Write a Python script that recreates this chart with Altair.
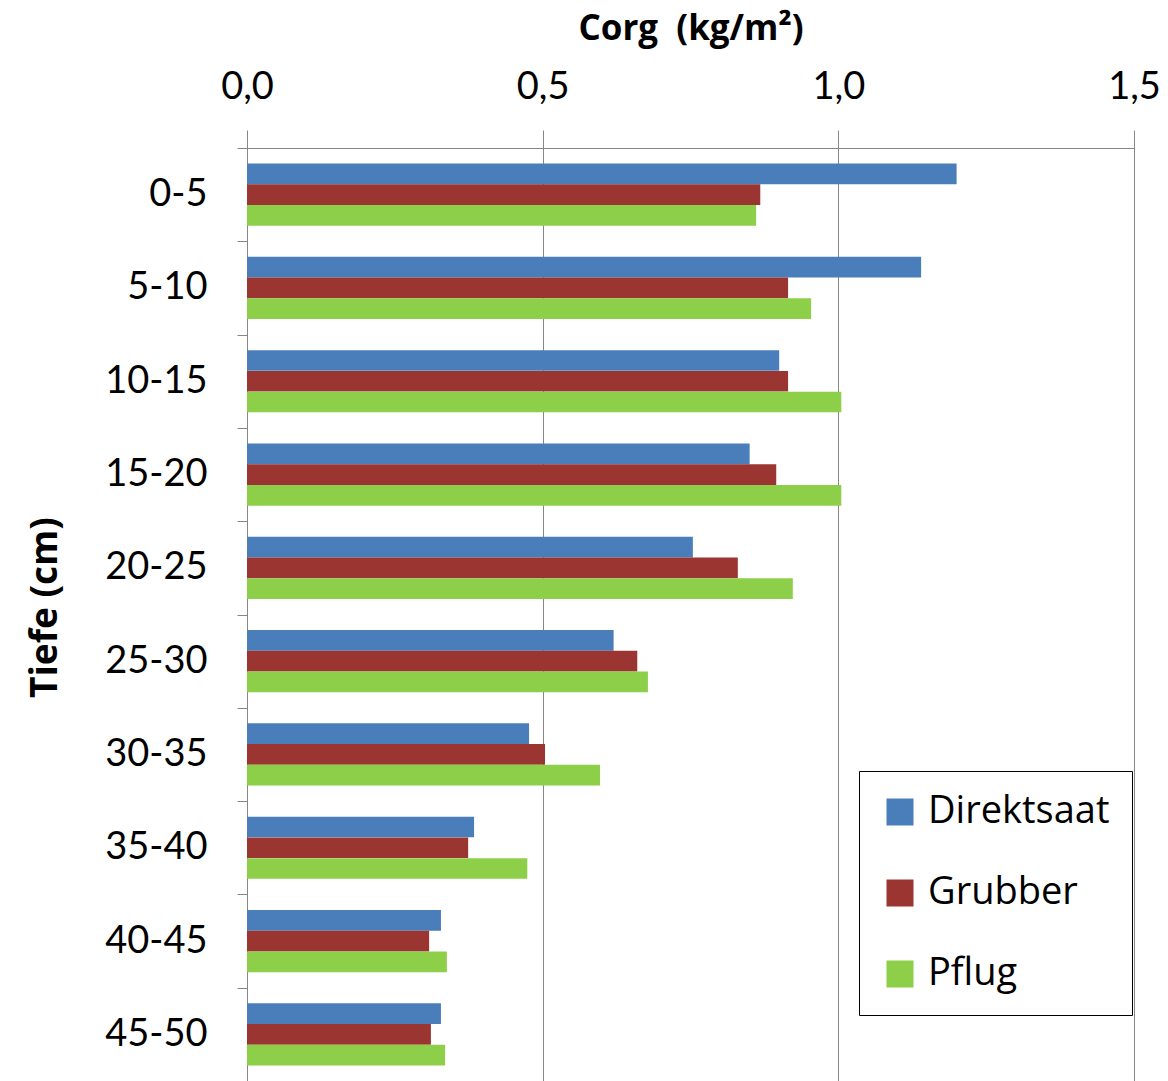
import altair as alt
import pandas as pd

categories = ["0-5", "5-10", "10-15", "15-20", "20-25", "25-30", "30-35", "35-40", "40-45", "45-50"]
series = ["Direktsaat", "Grubber", "Pflug"]
direktsaat = [1.20, 1.14, 0.90, 0.85, 0.754, 0.62, 0.477, 0.384, 0.328, 0.328]
grubber = [0.868, 0.915, 0.915, 0.895, 0.83, 0.66, 0.504, 0.374, 0.308, 0.311]
pflug = [0.861, 0.954, 1.005, 1.005, 0.923, 0.678, 0.597, 0.474, 0.338, 0.335]
colors = ["#4A7EBB", "#9B3531", "#8DCF48"]
x_ticks = [0.0, 0.5, 1.0, 1.5]

rows = []
for name, vals in zip(series, [direktsaat, grubber, pflug]):
    for c, v in zip(categories, vals):
        rows.append({"Tiefe": c, "Serie": name, "Corg": v})
df = pd.DataFrame(rows)

FONT = "Lato"
TFONT = "Open Sans"
GRID = "#868686"

chart = alt.Chart(df).mark_bar(size=20.7).encode(
    x=alt.X("Corg:Q",
            scale=alt.Scale(domain=[0, 1.5], nice=False, zero=True),
            axis=alt.Axis(orient="top", values=x_ticks, grid=True, gridColor=GRID,
                          tickColor=GRID, domainColor=GRID, tickSize=18,
                          labelExpr="replace(format(datum.value, '.1f'), '.', ',')",
                          labelFontSize=38, labelFont=FONT, labelColor="black",
                          labelFlush=False, labelPadding=24,
                          title="Corg\u00a0\u00a0(kg/m²)", titleFont=TFONT,
                          titleFontSize=35, titleFontWeight="bold", titleColor="black",
                          titlePadding=22)),
    y=alt.Y("Tiefe:N", sort=categories,
            scale=alt.Scale(paddingInner=0, paddingOuter=0),
            axis=alt.Axis(tickBand="extent", tickSize=10, tickColor=GRID,
                          domainColor=GRID, labelFontSize=38, labelFont=FONT,
                          labelColor="black", labelPadding=30, title="Tiefe (cm)",
                          titleFont=TFONT, titleFontSize=37, titleFontWeight="bold",
                          titleColor="black", titlePadding=40, titleY=459)),
    yOffset=alt.YOffset("Serie:N", sort=series,
                        scale=alt.Scale(paddingInner=0, paddingOuter=0.75)),
    color=alt.Color("Serie:N", sort=series,
                    scale=alt.Scale(domain=series, range=colors),
                    legend=alt.Legend(title=None, orient="none", legendX=612, legendY=623,
                                      symbolType="square", symbolSize=729,
                                      symbolStrokeWidth=0, labelFontSize=38,
                                      labelFont=TFONT, labelColor="black", labelLimit=0,
                                      rowPadding=43, padding=22, strokeColor="black",
                                      fillColor="white", labelOffset=9)),
).properties(
    width=887, height=933,
    autosize=alt.AutoSizeParams(type="none"),
    padding={"left": 247, "top": 148, "right": 34, "bottom": 0},
).configure_view(stroke=None).configure(background="white")

chart.save("out.html", embed_options={"renderer": "svg", "actions": False})
